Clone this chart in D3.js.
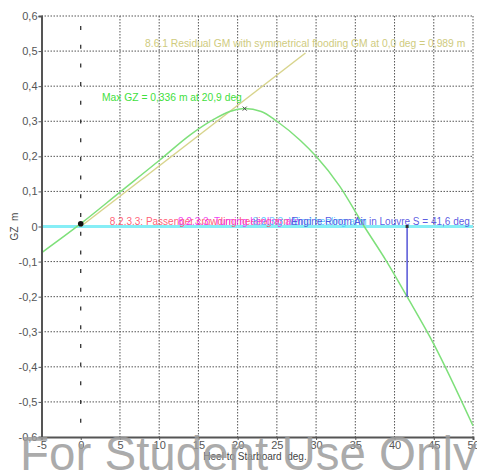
<!DOCTYPE html>
<html>
<head>
<meta charset="utf-8">
<script src="https://cdn.jsdelivr.net/npm/d3@7"></script>
<style>
  body { margin: 0; background: #fff; }
  svg { display: block; font-family: "Liberation Sans", Arial, sans-serif; }
</style>
</head>
<body>
<svg id="chart" width="477" height="470"></svg>
<script>
// GZ righting lever curve (heel in degrees, GZ in metres)
const heel = [-5, 0, 5, 10, 14, 17, 19, 20.9, 23, 25, 28, 30, 33, 36, 39, 41.6, 45, 50];
const gz   = [-0.075, 0.008, 0.098, 0.188, 0.262, 0.306, 0.328, 0.336, 0.328, 0.30, 0.245, 0.20, 0.115, 0.005, -0.10, -0.20, -0.335, -0.568];

// Residual GM line from the origin, drawn to 0.5 rad
const gmValue = 0.989;
const gmLineHeel = [0, 28.65];

// Maximum GZ point
const maxGZ = { heel: 20.9, gz: 0.336 };

// Downflooding angle marker
const floodAngle = 41.6;
const floodGZ = -0.20;

// Equilibrium point
const equilibrium = { heel: 0, gz: 0.008 };

const xTicks = [-5, 0, 5, 10, 15, 20, 25, 30, 35, 40, 45, 50];
const yTicks = [0.6, 0.5, 0.4, 0.3, 0.2, 0.1, 0, -0.1, -0.2, -0.3, -0.4, -0.5, -0.6];

// Overlapping criteria labels along the zero line
const zeroLabels = [
  { text: "8.2.3.3: Passenger crowding heeling arm", heel: 3.7, anchor: "start", color: "#ff4a64" },
  { text: "8.2.3.3: Turning heeling arm", heel: 12.4, anchor: "start", color: "#f02cf0" },
  { text: "8.2.3.3: Wind heeling arm", heel: 21.9, anchor: "start", color: "#4cc4ff" },
  { text: "Engine Room Air in Louvre S = 41,6 deg", heel: 49.6, anchor: "end", color: "#4848dd" }
];

const svg = d3.select("#chart");
const m = { left: 41.5, right: 473, top: 16, bottom: 437 };

const x = d3.scaleLinear().domain([-5, 50]).range([m.left, m.right]);
const y = d3.scaleLinear().domain([-0.6, 0.6]).range([m.bottom, m.top]);
const fmt = v => (v === 0 ? "0" : d3.format(".1f")(v).replace(".", ",").replace("−", "-"));

// grid (the zero-heel line is drawn separately as a dashed line)
const grid = svg.append("g");
grid.selectAll("line.v").data(xTicks.filter(d => d !== -5 && d !== 0)).join("line")
  .attr("x1", d => x(d)).attr("x2", d => x(d))
  .attr("y1", m.top).attr("y2", m.bottom)
  .attr("stroke", "#555").attr("stroke-width", 1).attr("stroke-dasharray", "1.5,1.5");
grid.selectAll("line.h").data(yTicks.filter(d => d !== -0.6)).join("line")
  .attr("x1", m.left).attr("x2", m.right)
  .attr("y1", d => y(d)).attr("y2", d => y(d))
  .attr("stroke", "#555").attr("stroke-width", 1).attr("stroke-dasharray", "1.5,1.5");

// vertical dashed line at zero heel
svg.append("line")
  .attr("x1", x(0)).attr("x2", x(0)).attr("y1", m.top).attr("y2", m.bottom)
  .attr("stroke", "#222").attr("stroke-width", 1.2).attr("stroke-dasharray", "4,14.7")
  .attr("stroke-dashoffset", -10);

// zero line
svg.append("line")
  .attr("x1", m.left).attr("x2", m.right).attr("y1", y(0)).attr("y2", y(0))
  .attr("stroke", "#86eef6").attr("stroke-width", 3);

// residual GM line
const gmPerDeg = gmValue * Math.PI / 180;
svg.append("line")
  .attr("x1", x(gmLineHeel[0])).attr("y1", y(gmLineHeel[0] * gmPerDeg))
  .attr("x2", x(gmLineHeel[1])).attr("y2", y(gmLineHeel[1] * gmPerDeg))
  .attr("stroke", "#d8d48c").attr("stroke-width", 1.5);

// GZ curve
const pts = heel.map((h, i) => [h, gz[i]]);
svg.append("path")
  .datum(pts)
  .attr("fill", "none").attr("stroke", "#7ee07a").attr("stroke-width", 1.5)
  .attr("d", d3.line().x(d => x(d[0])).y(d => y(d[1])).curve(d3.curveMonotoneX));

// downflooding marker
svg.append("line")
  .attr("x1", x(floodAngle)).attr("x2", x(floodAngle))
  .attr("y1", y(0)).attr("y2", y(floodGZ))
  .attr("stroke", "#3a3ad0").attr("stroke-width", 1.3);
svg.append("rect")
  .attr("x", x(floodAngle) - 1.5).attr("y", y(0) - 1.5).attr("width", 3).attr("height", 3)
  .attr("fill", "#333");

// max GZ marker
const mx = x(maxGZ.heel), my = y(maxGZ.gz);
svg.append("path")
  .attr("d", `M${mx - 2},${my - 2}L${mx + 2},${my + 2}M${mx - 2},${my + 2}L${mx + 2},${my - 2}`)
  .attr("stroke", "#444").attr("stroke-width", 1);

// equilibrium point
svg.append("circle")
  .attr("cx", x(equilibrium.heel)).attr("cy", y(equilibrium.gz)).attr("r", 2.8)
  .attr("fill", "#111");

// annotations
svg.append("text")
  .attr("x", x(8.2)).attr("y", y(0.5) - 4)
  .attr("font-size", 10.3).attr("fill", "#cfcb7e")
  .text("8.6.1 Residual GM with symmetrical flooding GM at 0,0 deg = 0,989 m");
svg.append("text")
  .attr("x", x(2.7)).attr("y", y(0.357))
  .attr("font-size", 10.3).attr("fill", "#3fe040")
  .text("Max GZ = 0,336 m at 20,9 deg");
zeroLabels.forEach(l => {
  svg.append("text")
    .attr("x", x(l.heel)).attr("y", y(0) - 1.5)
    .attr("text-anchor", l.anchor)
    .attr("font-size", 10).attr("fill", l.color).attr("fill-opacity", 0.9)
    .text(l.text);
});

// axes
const yAxis = svg.append("g").attr("transform", `translate(${m.left},0)`)
  .call(d3.axisLeft(y).tickValues(yTicks).tickFormat(fmt).tickSize(3).tickPadding(1));
const xAxis = svg.append("g").attr("transform", `translate(0,${m.bottom})`)
  .call(d3.axisBottom(x).tickValues(xTicks).tickFormat(d => String(d)).tickSize(3).tickPadding(1));
[yAxis, xAxis].forEach(a => {
  a.select(".domain").attr("stroke", "#555").attr("stroke-width", 2);
  a.selectAll(".tick line").attr("stroke", "#555");
  a.selectAll(".tick text").attr("fill", "#555").attr("font-size", 11)
    .attr("font-family", "Liberation Sans, Arial, sans-serif");
});

// axis titles
svg.append("text")
  .attr("transform", `translate(18,${y(0)}) rotate(-90)`)
  .attr("text-anchor", "middle").attr("font-size", 10).attr("fill", "#444")
  .attr("xml:space", "preserve")
  .text("GZ  m");
svg.append("text")
  .attr("x", 255).attr("y", 460)
  .attr("text-anchor", "middle").attr("font-size", 10).attr("fill", "#444")
  .attr("xml:space", "preserve")
  .text("Heel to Starboard  deg.");

// watermark
svg.append("text")
  .attr("x", 20).attr("y", 470)
  .attr("font-size", 47.5).attr("fill", "#9c9c9c").attr("fill-opacity", 0.85)
  .text("For Student Use Only");
</script>
</body>
</html>
